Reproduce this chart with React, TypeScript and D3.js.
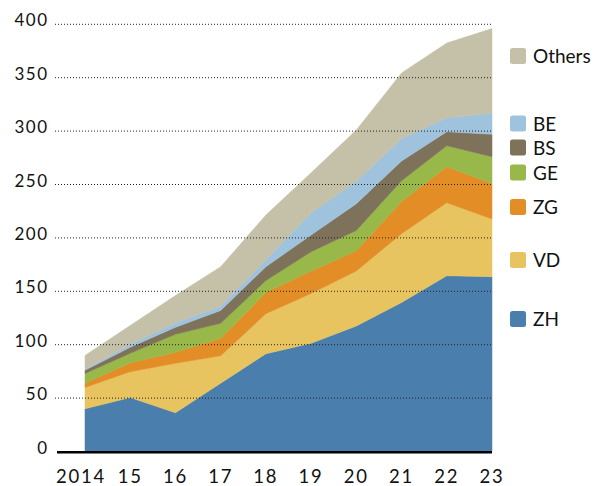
import React from "react";
import * as d3 from "d3";

const years = [2014, 2015, 2016, 2017, 2018, 2019, 2020, 2021, 2022, 2023];
const yearLabels = ["2014", "15", "16", "17", "18", "19", "20", "21", "22", "23"];
const yTicks = [0, 50, 100, 150, 200, 250, 300, 350, 400];

const ZH = [40, 50.5, 36.3, 64, 91.5, 101.3, 117.5, 139.5, 164.6, 163.7];
const VD = [20, 24.2, 46.3, 25.6, 37.5, 46.7, 51.5, 64.5, 68.4, 54];
const ZG = [4, 8.3, 10.3, 16.4, 20, 21, 19, 30, 33.7, 33.3];
const GE = [9, 9, 16.8, 14, 11, 18, 19, 19.5, 19.6, 25];
const BS = [3, 5.6, 6.6, 12, 13, 15.7, 25, 18.5, 13.1, 21];
const BE = [1, 2.8, 4.3, 4, 6.5, 20.9, 21, 21, 13.1, 19.7];
const Others = [13, 17.6, 25.4, 37, 41.9, 37.4, 48, 61.5, 70, 79.3];

const seriesNames = ["ZH", "VD", "ZG", "GE", "BS", "BE", "Others"];
const seriesValues = [ZH, VD, ZG, GE, BS, BE, Others];
const colors = ["#4a7fad", "#e7c45f", "#e38d27", "#99b84a", "#7e725b", "#9fc2dd", "#c5c1a8"];

// legend layout (vertical centers)
const legendY = [319, 260, 207, 172.5, 147.5, 123.5, 56];

const FONT = "Lato, 'DejaVu Sans', sans-serif";

export default function App() {
  const x = d3.scaleLinear().domain([2014, 2023]).range([85, 492]);
  const y = d3.scaleLinear().domain([0, 400]).range([451.5, 24.3]);

  const table = years.map((yr, i) => {
    const row: any = { year: yr };
    seriesNames.forEach((n, j) => (row[n] = seriesValues[j][i]));
    return row;
  });
  const stack = d3.stack<any>().keys(seriesNames)(table);
  const area = d3
    .area<any>()
    .x((d) => x(d.data.year))
    .y0((d) => y(d[0]))
    .y1((d) => y(d[1]));

  return (
    <svg
      width={596}
      height={486}
      style={{ position: "absolute", left: 0, top: 0, background: "#fff" }}
    >
      {stack.map((s, i) => (
        <path key={s.key} d={area(s) || ""} fill={colors[i]} stroke={colors[i]} strokeWidth={0.5} />
      ))}
      {yTicks.filter((t) => t > 0).map((t) => (
        <line
          key={t}
          x1={55}
          x2={492}
          y1={y(t)}
          y2={y(t)}
          stroke="#222"
          strokeWidth={1}
          strokeDasharray="1,2"
        />
      ))}
      <line x1={57} x2={492} y1={452.3} y2={452.3} stroke="#000" strokeWidth={2.6} />
      {yTicks.map((t) => (
        <text
          key={t}
          x={48.5}
          y={y(t) + 2}
          textAnchor="end"
          fontFamily={FONT}
          fontSize={17}
          letterSpacing={1.5}
          fill="#111"
        >
          {t}
        </text>
      ))}
      {years.map((yr, i) => (
        <text
          key={yr}
          x={x(yr) + (i === 0 ? -4 : 0)}
          y={482.7}
          textAnchor="middle"
          fontFamily={FONT}
          fontSize={18.5}
          letterSpacing={1.8}
          fill="#111"
        >
          {yearLabels[i]}
        </text>
      ))}
      {seriesNames.map((n, i) => (
        <g key={n}>
          <rect x={510} y={legendY[i] - 8} width={16} height={16} rx={2.5} fill={colors[i]} />
          <text x={533} y={legendY[i] + 7} fontFamily={FONT} fontSize={19} fill="#111">
            {n}
          </text>
        </g>
      ))}
    </svg>
  );
}
